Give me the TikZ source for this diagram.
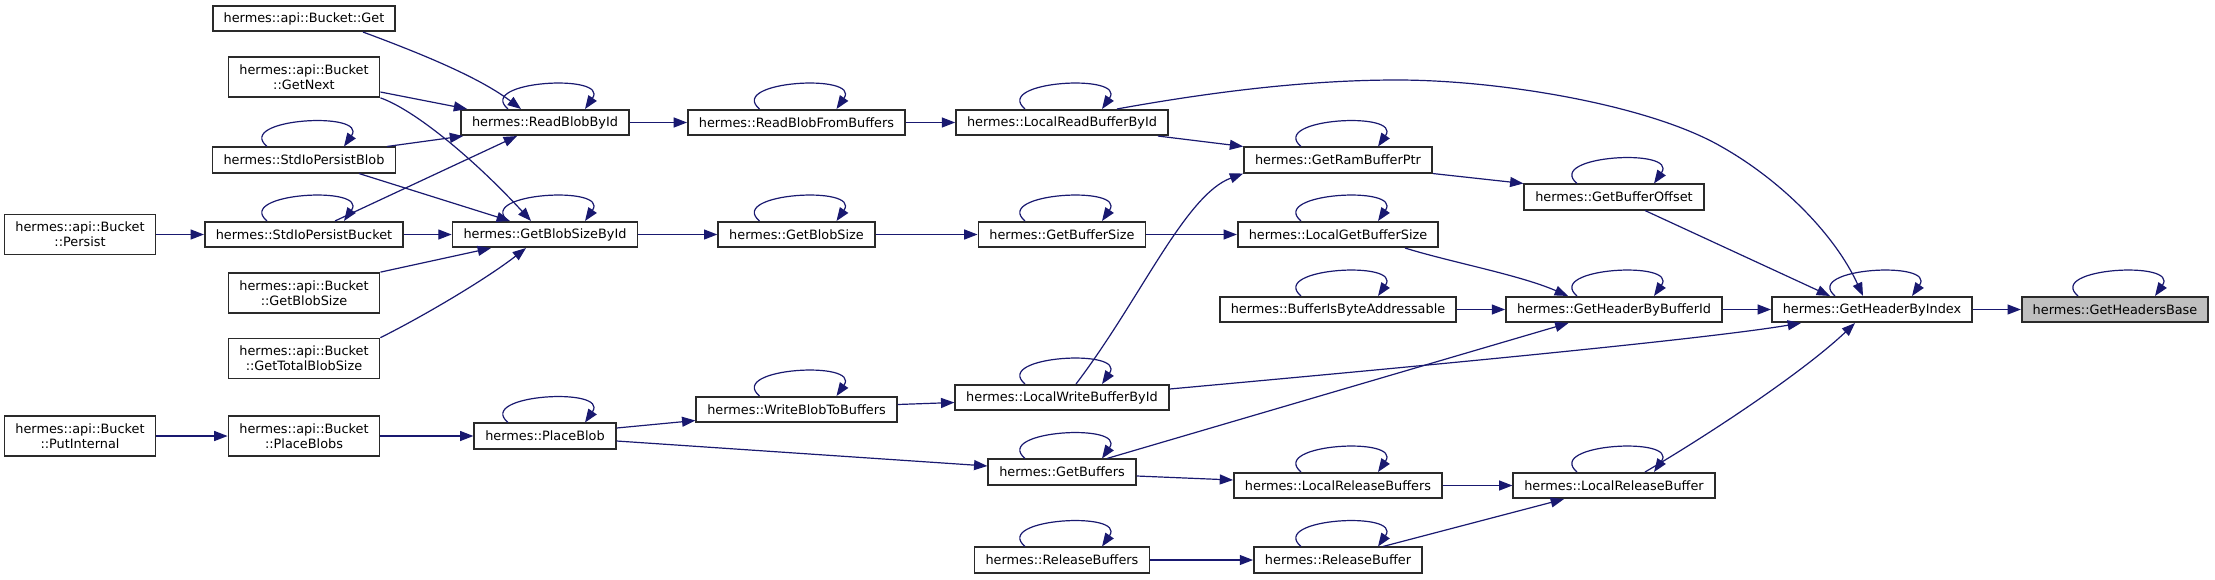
\documentclass[tikz,border=0pt]{standalone}
\usepackage{fontspec}
\setmainfont{DejaVu Sans}
\usetikzlibrary{arrows.meta,calc}
\definecolor{navy}{HTML}{191970}
\definecolor{rootgray}{HTML}{BFBFBF}
\definecolor{boxline}{HTML}{2A2A2A}
\tikzset{
  fn/.style={draw=boxline, line width=1.3pt, fill=white, font=\fontsize{9.64}{11}\selectfont,
    inner xsep=8.25pt, inner ysep=0pt, minimum height=19pt, align=center},
  fntwo/.style={fn, minimum height=30pt},
  rootfn/.style={fn, fill=rootgray},
  edge/.style={draw=navy, line width=0.9pt, -{Triangle[length=10pt,width=7.5pt]}},
}
\newcommand{\selfloop}[1]{\draw[edge] ($(#1.north)+(-37,0)$) .. controls +(-33,-28) and +(25,-36) .. ($(#1.north)+(40,0)$);}
\begin{document}
\begin{tikzpicture}[x=0.75pt,y=-0.75pt]
\fill[white] (0,0) rectangle (2215,579);
\useasboundingbox (0,0) rectangle (2215,579);
% nodes
\node[fntwo] (persist) at (80,234.5) {hermes::api::Bucket\\::Persist};
\node[fntwo] (putint) at (80,436) {hermes::api::Bucket\\::PutInternal};
\node[fn] (get) at (304,18.5) {hermes::api::Bucket::Get};
\node[fntwo] (getnext) at (304,77) {hermes::api::Bucket\\::GetNext};
\node[fn] (sipblob) at (304,160) {hermes::StdIoPersistBlob};
\node[fn] (sipbucket) at (304,234.5) {hermes::StdIoPersistBucket};
\node[fntwo] (apigbs) at (304,293) {hermes::api::Bucket\\::GetBlobSize};
\node[fntwo] (gtbs) at (304,358.5) {hermes::api::Bucket\\::GetTotalBlobSize};
\node[fntwo] (placeblobs) at (304,436) {hermes::api::Bucket\\::PlaceBlobs};
\node[fn] (rbbi) at (545,122.5) {hermes::ReadBlobById};
\node[fn] (gbsbi) at (545,234.5) {hermes::GetBlobSizeById};
\node[fn] (placeblob) at (545,436) {hermes::PlaceBlob};
\node[fn] (rbfb) at (796.5,122.5) {hermes::ReadBlobFromBuffers};
\node[fn] (gbs) at (796.5,234.5) {hermes::GetBlobSize};
\node[fn] (wbtb) at (796.5,409.5) {hermes::WriteBlobToBuffers};
\node[fn] (lrbbi) at (1062,122.5) {hermes::LocalReadBufferById};
\node[fn] (gbufsize) at (1062,234.5) {hermes::GetBufferSize};
\node[fn] (lwbbi) at (1062,397.5) {hermes::LocalWriteBufferById};
\node[fn] (getbuffers) at (1062,472) {hermes::GetBuffers};
\node[fn] (relbufs) at (1062,560) {hermes::ReleaseBuffers};
\node[fn] (grbp) at (1338,160) {hermes::GetRamBufferPtr};
\node[fn] (lgbs) at (1338,234.5) {hermes::LocalGetBufferSize};
\node[fn] (biba) at (1338,309.5) {hermes::BufferIsByteAddressable};
\node[fn] (lrbufs) at (1338,485.5) {hermes::LocalReleaseBuffers};
\node[fn] (relbuf) at (1338,560) {hermes::ReleaseBuffer};
\node[fn] (gbo) at (1614,197) {hermes::GetBufferOffset};
\node[fn] (ghbbi) at (1614,309.5) {hermes::GetHeaderByBufferId};
\node[fn] (lrbuf) at (1614,485.5) {hermes::LocalReleaseBuffer};
\node[fn] (ghbi) at (1872,309.5) {hermes::GetHeaderByIndex};
\node[rootfn] (ghb) at (2115,309.5) {hermes::GetHeadersBase};
% self loops
\foreach \n in {sipblob,sipbucket,rbbi,gbsbi,placeblob,rbfb,gbs,wbtb,lrbbi,gbufsize,lwbbi,getbuffers,relbufs,grbp,lgbs,biba,lrbufs,relbuf,gbo,ghbbi,lrbuf,ghbi,ghb}{\selfloop{\n}}
% horizontal edges
\draw[edge] (persist.east) -- (sipbucket.west);
\draw[edge] (sipbucket.east) -- (gbsbi.west);
\draw[edge] (putint.east) -- (placeblobs.west);
\draw[edge] (placeblobs.east) -- (placeblob.west);
\draw[edge] (rbbi.east) -- (rbfb.west);
\draw[edge] (rbfb.east) -- (lrbbi.west);
\draw[edge] (gbsbi.east) -- (gbs.west);
\draw[edge] (gbs.east) -- (gbufsize.west);
\draw[edge] (gbufsize.east) -- (lgbs.west);
\draw[edge] (biba.east) -- (ghbbi.west);
\draw[edge] (ghbbi.east) -- (ghbi.west);
\draw[edge] (ghbi.east) -- (ghb.west);
\draw[edge] (lrbufs.east) -- (lrbuf.west);
\draw[edge] (relbufs.east) -- (relbuf.west);
% other edges
\draw[edge] ($(get.south)+(59,0)$) .. controls (425,55) and (480,78) .. ($(rbbi.north)+(-24,0)$);
\draw[edge] ($(getnext.east)+(0,15)$) -- ($(rbbi.north west)+(7,0)$);
\draw[edge] (getnext.south east) .. controls (415,110) and (475,160) .. ($(gbsbi.north)+(-14,0)$);
\draw[edge] ($(sipblob.north)+(83,0)$) -- ($(rbbi.south west)+(3,0)$);
\draw[edge] ($(sipblob.south)+(55,0)$) -- ($(gbsbi.north)+(-35,0)$);
\draw[edge] ($(sipbucket.north)+(31,0)$) -- ($(rbbi.south)+(-28,0)$);
\draw[edge] (apigbs.north east) -- ($(gbsbi.south)+(-54,0)$);
\draw[edge] (gtbs.north east) .. controls (420,318) and (485,280) .. ($(gbsbi.south)+(-19,0)$);
\draw[edge] ($(placeblob.east)+(0,-8)$) -- ($(wbtb.west)+(0,11)$);
\draw[edge] ($(placeblob.east)+(0,5)$) -- ($(getbuffers.west)+(0,-6)$);
\draw[edge] ($(wbtb.east)+(0,-5)$) -- ($(lwbbi.west)+(0,5)$);
\draw[edge] ($(getbuffers.east)+(0,4)$) -- ($(lrbufs.west)+(0,-5.5)$);
\draw[edge] ($(lrbbi.south)+(96,0)$) -- (grbp.north west);
\draw[edge] ($(lrbbi.north)+(55,0)$) .. controls (1200,94) and (1300,80) .. (1397,80)
  .. controls (1500,80) and (1650,105) .. (1722,147)
  .. controls (1782,181) and (1835,235) .. ($(ghbi.north)+(-9,0)$);
\draw[edge] (grbp.south east) -- (gbo.north west);
\draw[edge] ($(lwbbi.north)+(14,0)$) .. controls (1140,300) and (1185,195) .. (grbp.south west);
\draw[edge] ($(lgbs.south)+(67,0)$) .. controls (1450,262) and (1520,275) .. ($(ghbbi.north)+(-46,0)$);
\draw[edge] ($(gbo.south)+(31,0)$) -- ($(ghbi.north)+(-42,0)$);
\draw[edge] ($(lwbbi.east)+(0,-8.5)$) .. controls (1400,368) and (1700,340) .. ($(ghbi.south)+(-71,0)$);
\draw[edge] ($(getbuffers.north)+(45,0)$) -- ($(ghbbi.south)+(-45.5,0)$);
\draw[edge] ($(relbuf.north)+(45,0)$) -- ($(lrbuf.south)+(-50,0)$);
\draw[edge] ($(lrbuf.north)+(31,0)$) .. controls (1700,440) and (1800,375) .. ($(ghbi.south)+(-17,0)$);
\end{tikzpicture}
\end{document}
